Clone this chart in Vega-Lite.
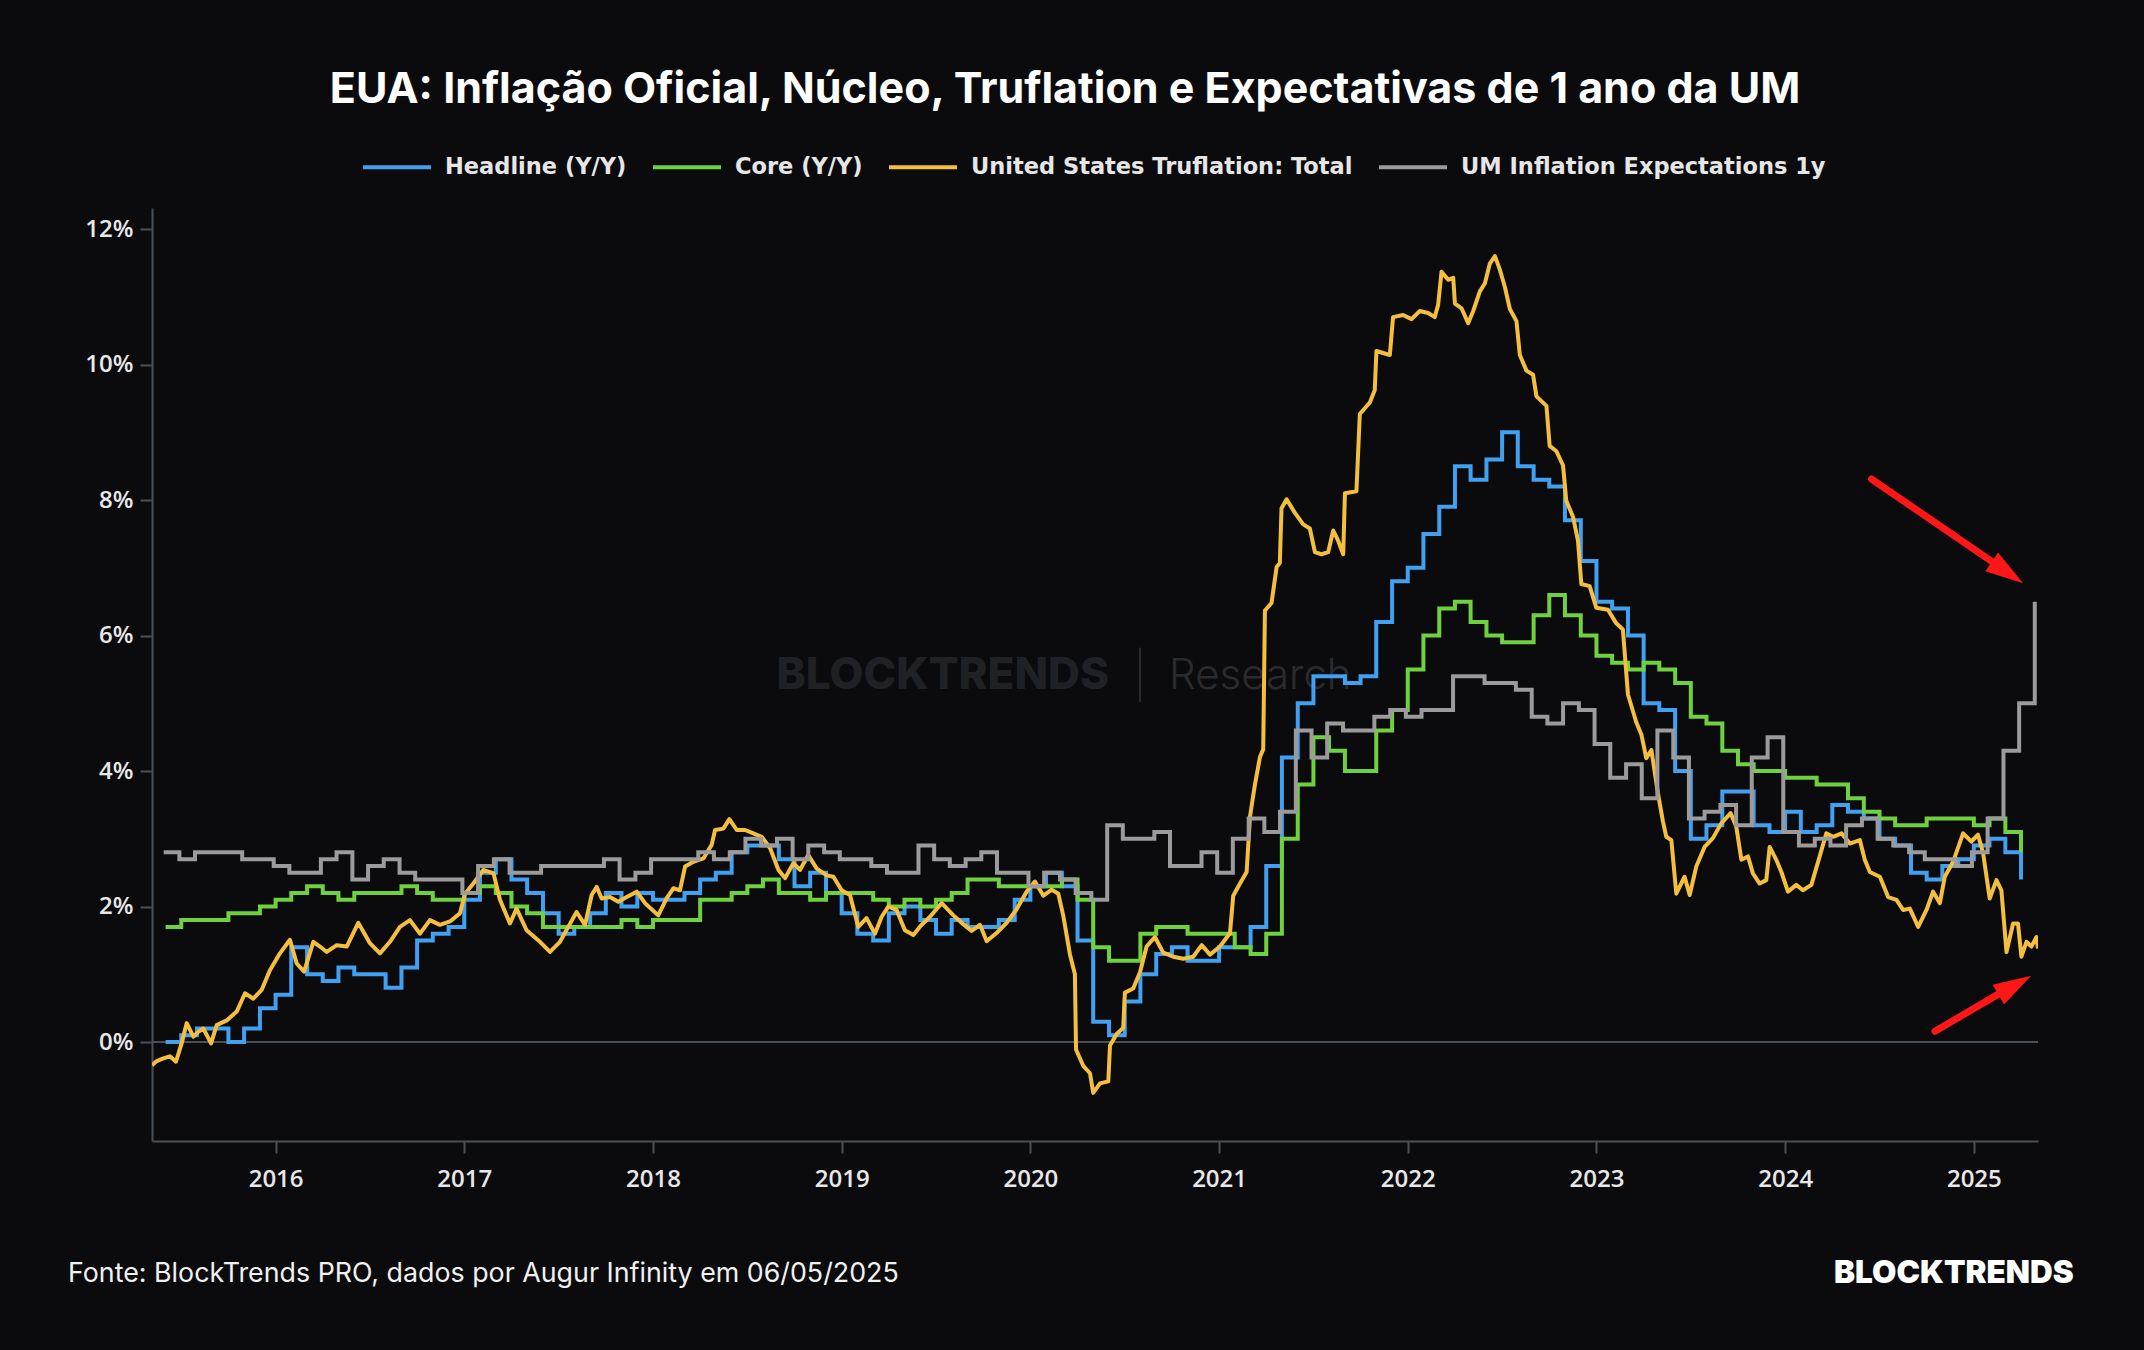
{
"$schema":"https://vega.github.io/schema/vega-lite/v6.json",
"background":"#0b0b0d",
"width":1886,"height":933,
"autosize":{"type":"none"},
"padding":{"left":152,"top":208,"right":106,"bottom":209},
"title":{"text":"EUA: Inflação Oficial, Núcleo, Truflation e Expectativas de 1 ano da UM","font":"Inter","fontSize":43,"fontWeight":700,"color":"#ffffff","anchor":"middle","frame":"group","offset":19,"dx":-30},
"config":{
 "view":{"stroke":null},
 "axis":{"domainColor":"#4b5058","domainWidth":2,"tickColor":"#4b5058","tickWidth":2,"tickSize":12,"labelColor":"#e8e8e8","labelFont":"Open Sans","labelFontSize":24,"labelFontWeight":600,"grid":false}
},
"datasets":{
"headline":[
{"t":2015.417,"v":0.0},{"t":2015.5,"v":0.1},{"t":2015.583,"v":0.2},{"t":2015.667,"v":0.2},{"t":2015.75,"v":0.0},{"t":2015.833,"v":0.2},{"t":2015.917,"v":0.5},{"t":2016.0,"v":0.7},
{"t":2016.083,"v":1.4},{"t":2016.167,"v":1.0},{"t":2016.25,"v":0.9},{"t":2016.333,"v":1.1},{"t":2016.417,"v":1.0},{"t":2016.5,"v":1.0},{"t":2016.583,"v":0.8},{"t":2016.667,"v":1.1},{"t":2016.75,"v":1.5},{"t":2016.833,"v":1.6},{"t":2016.917,"v":1.7},{"t":2017.0,"v":2.1},
{"t":2017.083,"v":2.5},{"t":2017.167,"v":2.7},{"t":2017.25,"v":2.4},{"t":2017.333,"v":2.2},{"t":2017.417,"v":1.9},{"t":2017.5,"v":1.6},{"t":2017.583,"v":1.7},{"t":2017.667,"v":1.9},{"t":2017.75,"v":2.2},{"t":2017.833,"v":2.0},{"t":2017.917,"v":2.2},{"t":2018.0,"v":2.1},
{"t":2018.083,"v":2.1},{"t":2018.167,"v":2.2},{"t":2018.25,"v":2.4},{"t":2018.333,"v":2.5},{"t":2018.417,"v":2.8},{"t":2018.5,"v":2.9},{"t":2018.583,"v":2.9},{"t":2018.667,"v":2.7},{"t":2018.75,"v":2.3},{"t":2018.833,"v":2.5},{"t":2018.917,"v":2.2},{"t":2019.0,"v":1.9},
{"t":2019.083,"v":1.6},{"t":2019.167,"v":1.5},{"t":2019.25,"v":1.9},{"t":2019.333,"v":2.0},{"t":2019.417,"v":1.8},{"t":2019.5,"v":1.6},{"t":2019.583,"v":1.8},{"t":2019.667,"v":1.7},{"t":2019.75,"v":1.7},{"t":2019.833,"v":1.8},{"t":2019.917,"v":2.1},{"t":2020.0,"v":2.3},
{"t":2020.083,"v":2.5},{"t":2020.167,"v":2.3},{"t":2020.25,"v":1.5},{"t":2020.333,"v":0.3},{"t":2020.417,"v":0.1},{"t":2020.5,"v":0.6},{"t":2020.583,"v":1.0},{"t":2020.667,"v":1.3},{"t":2020.75,"v":1.4},{"t":2020.833,"v":1.2},{"t":2020.917,"v":1.2},{"t":2021.0,"v":1.4},
{"t":2021.083,"v":1.4},{"t":2021.167,"v":1.7},{"t":2021.25,"v":2.6},{"t":2021.333,"v":4.2},{"t":2021.417,"v":5.0},{"t":2021.5,"v":5.4},{"t":2021.583,"v":5.4},{"t":2021.667,"v":5.3},{"t":2021.75,"v":5.4},{"t":2021.833,"v":6.2},{"t":2021.917,"v":6.8},{"t":2022.0,"v":7.0},
{"t":2022.083,"v":7.5},{"t":2022.167,"v":7.9},{"t":2022.25,"v":8.5},{"t":2022.333,"v":8.3},{"t":2022.417,"v":8.6},{"t":2022.5,"v":9.0},{"t":2022.583,"v":8.5},{"t":2022.667,"v":8.3},{"t":2022.75,"v":8.2},{"t":2022.833,"v":7.7},{"t":2022.917,"v":7.1},{"t":2023.0,"v":6.5},
{"t":2023.083,"v":6.4},{"t":2023.167,"v":6.0},{"t":2023.25,"v":5.0},{"t":2023.333,"v":4.9},{"t":2023.417,"v":4.0},{"t":2023.5,"v":3.0},{"t":2023.583,"v":3.2},{"t":2023.667,"v":3.7},{"t":2023.75,"v":3.7},{"t":2023.833,"v":3.2},{"t":2023.917,"v":3.1},{"t":2024.0,"v":3.4},
{"t":2024.083,"v":3.1},{"t":2024.167,"v":3.2},{"t":2024.25,"v":3.5},{"t":2024.333,"v":3.4},{"t":2024.417,"v":3.3},{"t":2024.5,"v":3.0},{"t":2024.583,"v":2.9},{"t":2024.667,"v":2.5},{"t":2024.75,"v":2.4},{"t":2024.833,"v":2.6},{"t":2024.917,"v":2.7},{"t":2025.0,"v":2.9},
{"t":2025.083,"v":3.0},{"t":2025.167,"v":2.8},{"t":2025.25,"v":2.4}
],
"core":[
{"t":2015.417,"v":1.7},{"t":2015.5,"v":1.8},{"t":2015.583,"v":1.8},{"t":2015.667,"v":1.8},{"t":2015.75,"v":1.9},{"t":2015.833,"v":1.9},{"t":2015.917,"v":2.0},{"t":2016.0,"v":2.1},
{"t":2016.083,"v":2.2},{"t":2016.167,"v":2.3},{"t":2016.25,"v":2.2},{"t":2016.333,"v":2.1},{"t":2016.417,"v":2.2},{"t":2016.5,"v":2.2},{"t":2016.583,"v":2.2},{"t":2016.667,"v":2.3},{"t":2016.75,"v":2.2},{"t":2016.833,"v":2.1},{"t":2016.917,"v":2.1},{"t":2017.0,"v":2.2},
{"t":2017.083,"v":2.3},{"t":2017.167,"v":2.2},{"t":2017.25,"v":2.0},{"t":2017.333,"v":1.9},{"t":2017.417,"v":1.7},{"t":2017.5,"v":1.7},{"t":2017.583,"v":1.7},{"t":2017.667,"v":1.7},{"t":2017.75,"v":1.7},{"t":2017.833,"v":1.8},{"t":2017.917,"v":1.7},{"t":2018.0,"v":1.8},
{"t":2018.083,"v":1.8},{"t":2018.167,"v":1.8},{"t":2018.25,"v":2.1},{"t":2018.333,"v":2.1},{"t":2018.417,"v":2.2},{"t":2018.5,"v":2.3},{"t":2018.583,"v":2.4},{"t":2018.667,"v":2.2},{"t":2018.75,"v":2.2},{"t":2018.833,"v":2.1},{"t":2018.917,"v":2.2},{"t":2019.0,"v":2.2},
{"t":2019.083,"v":2.2},{"t":2019.167,"v":2.1},{"t":2019.25,"v":2.0},{"t":2019.333,"v":2.1},{"t":2019.417,"v":2.0},{"t":2019.5,"v":2.1},{"t":2019.583,"v":2.2},{"t":2019.667,"v":2.4},{"t":2019.75,"v":2.4},{"t":2019.833,"v":2.3},{"t":2019.917,"v":2.3},{"t":2020.0,"v":2.3},
{"t":2020.083,"v":2.3},{"t":2020.167,"v":2.4},{"t":2020.25,"v":2.1},{"t":2020.333,"v":1.4},{"t":2020.417,"v":1.2},{"t":2020.5,"v":1.2},{"t":2020.583,"v":1.6},{"t":2020.667,"v":1.7},{"t":2020.75,"v":1.7},{"t":2020.833,"v":1.6},{"t":2020.917,"v":1.6},{"t":2021.0,"v":1.6},
{"t":2021.083,"v":1.4},{"t":2021.167,"v":1.3},{"t":2021.25,"v":1.6},{"t":2021.333,"v":3.0},{"t":2021.417,"v":3.8},{"t":2021.5,"v":4.5},{"t":2021.583,"v":4.3},{"t":2021.667,"v":4.0},{"t":2021.75,"v":4.0},{"t":2021.833,"v":4.6},{"t":2021.917,"v":4.9},{"t":2022.0,"v":5.5},
{"t":2022.083,"v":6.0},{"t":2022.167,"v":6.4},{"t":2022.25,"v":6.5},{"t":2022.333,"v":6.2},{"t":2022.417,"v":6.0},{"t":2022.5,"v":5.9},{"t":2022.583,"v":5.9},{"t":2022.667,"v":6.3},{"t":2022.75,"v":6.6},{"t":2022.833,"v":6.3},{"t":2022.917,"v":6.0},{"t":2023.0,"v":5.7},
{"t":2023.083,"v":5.6},{"t":2023.167,"v":5.5},{"t":2023.25,"v":5.6},{"t":2023.333,"v":5.5},{"t":2023.417,"v":5.3},{"t":2023.5,"v":4.8},{"t":2023.583,"v":4.7},{"t":2023.667,"v":4.3},{"t":2023.75,"v":4.1},{"t":2023.833,"v":4.0},{"t":2023.917,"v":4.0},{"t":2024.0,"v":3.9},
{"t":2024.083,"v":3.9},{"t":2024.167,"v":3.8},{"t":2024.25,"v":3.8},{"t":2024.333,"v":3.6},{"t":2024.417,"v":3.4},{"t":2024.5,"v":3.3},{"t":2024.583,"v":3.2},{"t":2024.667,"v":3.2},{"t":2024.75,"v":3.3},{"t":2024.833,"v":3.3},{"t":2024.917,"v":3.3},{"t":2025.0,"v":3.2},
{"t":2025.083,"v":3.3},{"t":2025.167,"v":3.1},{"t":2025.25,"v":2.8}
],
"um":[
{"t":2015.407,"v":2.8},{"t":2015.49,"v":2.7},{"t":2015.573,"v":2.8},{"t":2015.657,"v":2.8},{"t":2015.74,"v":2.8},{"t":2015.823,"v":2.7},{"t":2015.907,"v":2.7},{"t":2015.99,"v":2.6},
{"t":2016.073,"v":2.5},{"t":2016.157,"v":2.5},{"t":2016.24,"v":2.7},{"t":2016.323,"v":2.8},{"t":2016.407,"v":2.4},{"t":2016.49,"v":2.6},{"t":2016.573,"v":2.7},{"t":2016.657,"v":2.5},{"t":2016.74,"v":2.4},{"t":2016.823,"v":2.4},{"t":2016.907,"v":2.4},{"t":2016.99,"v":2.2},
{"t":2017.073,"v":2.6},{"t":2017.157,"v":2.7},{"t":2017.24,"v":2.5},{"t":2017.323,"v":2.5},{"t":2017.407,"v":2.6},{"t":2017.49,"v":2.6},{"t":2017.573,"v":2.6},{"t":2017.657,"v":2.6},{"t":2017.74,"v":2.7},{"t":2017.823,"v":2.4},{"t":2017.907,"v":2.5},{"t":2017.99,"v":2.7},
{"t":2018.073,"v":2.7},{"t":2018.157,"v":2.7},{"t":2018.24,"v":2.8},{"t":2018.323,"v":2.7},{"t":2018.407,"v":2.8},{"t":2018.49,"v":3.0},{"t":2018.573,"v":2.9},{"t":2018.657,"v":3.0},{"t":2018.74,"v":2.7},{"t":2018.823,"v":2.9},{"t":2018.907,"v":2.8},{"t":2018.99,"v":2.7},
{"t":2019.073,"v":2.7},{"t":2019.157,"v":2.6},{"t":2019.24,"v":2.5},{"t":2019.323,"v":2.5},{"t":2019.407,"v":2.9},{"t":2019.49,"v":2.7},{"t":2019.573,"v":2.6},{"t":2019.657,"v":2.7},{"t":2019.74,"v":2.8},{"t":2019.823,"v":2.5},{"t":2019.907,"v":2.5},{"t":2019.99,"v":2.3},
{"t":2020.073,"v":2.5},{"t":2020.157,"v":2.4},{"t":2020.24,"v":2.2},{"t":2020.323,"v":2.1},{"t":2020.407,"v":3.2},{"t":2020.49,"v":3.0},{"t":2020.573,"v":3.0},{"t":2020.657,"v":3.1},{"t":2020.74,"v":2.6},{"t":2020.823,"v":2.6},{"t":2020.907,"v":2.8},{"t":2020.99,"v":2.5},
{"t":2021.073,"v":3.0},{"t":2021.157,"v":3.3},{"t":2021.24,"v":3.1},{"t":2021.323,"v":3.4},{"t":2021.407,"v":4.6},{"t":2021.49,"v":4.2},{"t":2021.573,"v":4.7},{"t":2021.657,"v":4.6},{"t":2021.74,"v":4.6},{"t":2021.823,"v":4.8},{"t":2021.907,"v":4.9},{"t":2021.99,"v":4.8},
{"t":2022.073,"v":4.9},{"t":2022.157,"v":4.9},{"t":2022.24,"v":5.4},{"t":2022.323,"v":5.4},{"t":2022.407,"v":5.3},{"t":2022.49,"v":5.3},{"t":2022.573,"v":5.2},{"t":2022.657,"v":4.8},{"t":2022.74,"v":4.7},{"t":2022.823,"v":5.0},{"t":2022.907,"v":4.9},{"t":2022.99,"v":4.4},
{"t":2023.073,"v":3.9},{"t":2023.157,"v":4.1},{"t":2023.24,"v":3.6},{"t":2023.323,"v":4.6},{"t":2023.407,"v":4.2},{"t":2023.49,"v":3.3},{"t":2023.573,"v":3.4},{"t":2023.657,"v":3.5},{"t":2023.74,"v":3.2},{"t":2023.823,"v":4.2},{"t":2023.907,"v":4.5},{"t":2023.99,"v":3.1},
{"t":2024.073,"v":2.9},{"t":2024.157,"v":3.0},{"t":2024.24,"v":2.9},{"t":2024.323,"v":3.2},{"t":2024.407,"v":3.3},{"t":2024.49,"v":3.0},{"t":2024.573,"v":2.9},{"t":2024.657,"v":2.8},{"t":2024.74,"v":2.7},{"t":2024.823,"v":2.7},{"t":2024.907,"v":2.6},{"t":2024.99,"v":2.8},
{"t":2025.073,"v":3.3},{"t":2025.157,"v":4.3},{"t":2025.24,"v":5.0},{"t":2025.323,"v":6.5}
],
"truf":[
{"t":2015.345,"v":-0.34},{"t":2015.37,"v":-0.28},{"t":2015.405,"v":-0.24},{"t":2015.44,"v":-0.21},{"t":2015.472,"v":-0.29},{"t":2015.502,"v":-0.02},{"t":2015.529,"v":0.28},{"t":2015.564,"v":0.08},{"t":2015.59,"v":0.15},{"t":2015.617,"v":0.2},{"t":2015.658,"v":-0.02},{"t":2015.688,"v":0.25},{"t":2015.741,"v":0.32},{"t":2015.794,"v":0.45},{"t":2015.838,"v":0.72},{"t":2015.882,"v":0.64},{"t":2015.926,"v":0.77},{"t":2015.97,"v":1.06},
{"t":2016.023,"v":1.31},{"t":2016.076,"v":1.51},{"t":2016.112,"v":1.16},{"t":2016.151,"v":1.04},{"t":2016.2,"v":1.48},{"t":2016.235,"v":1.41},{"t":2016.271,"v":1.33},{"t":2016.324,"v":1.43},{"t":2016.377,"v":1.41},{"t":2016.438,"v":1.76},{"t":2016.5,"v":1.46},{"t":2016.553,"v":1.31},{"t":2016.606,"v":1.48},{"t":2016.659,"v":1.7},{"t":2016.712,"v":1.8},{"t":2016.765,"v":1.6},{"t":2016.818,"v":1.8},{"t":2016.871,"v":1.73},{"t":2016.924,"v":1.78},{"t":2016.977,"v":1.9},
{"t":2017.004,"v":2.19},{"t":2017.048,"v":2.34},{"t":2017.101,"v":2.54},{"t":2017.155,"v":2.49},{"t":2017.189,"v":2.1},{"t":2017.242,"v":1.75},{"t":2017.277,"v":1.97},{"t":2017.33,"v":1.65},{"t":2017.401,"v":1.48},{"t":2017.454,"v":1.33},{"t":2017.507,"v":1.48},{"t":2017.551,"v":1.7},{"t":2017.595,"v":1.92},{"t":2017.64,"v":1.73},{"t":2017.675,"v":2.17},{"t":2017.702,"v":2.29},{"t":2017.728,"v":2.12},{"t":2017.772,"v":2.14},{"t":2017.816,"v":2.07},{"t":2017.861,"v":2.14},{"t":2017.914,"v":2.22},{"t":2017.958,"v":2.05},
{"t":2018.028,"v":1.87},{"t":2018.072,"v":2.12},{"t":2018.108,"v":2.27},{"t":2018.143,"v":2.24},{"t":2018.17,"v":2.59},{"t":2018.214,"v":2.66},{"t":2018.267,"v":2.71},{"t":2018.311,"v":2.91},{"t":2018.329,"v":3.13},{"t":2018.373,"v":3.15},{"t":2018.405,"v":3.29},{"t":2018.444,"v":3.13},{"t":2018.488,"v":3.13},{"t":2018.532,"v":3.08},{"t":2018.576,"v":3.03},{"t":2018.621,"v":2.86},{"t":2018.665,"v":2.54},{"t":2018.7,"v":2.42},{"t":2018.744,"v":2.64},{"t":2018.779,"v":2.54},{"t":2018.823,"v":2.76},{"t":2018.868,"v":2.56},{"t":2018.921,"v":2.46},{"t":2018.956,"v":2.44},
{"t":2019.0,"v":2.24},{"t":2019.044,"v":2.17},{"t":2019.088,"v":1.7},{"t":2019.132,"v":1.83},{"t":2019.176,"v":1.6},{"t":2019.212,"v":1.85},{"t":2019.247,"v":2.0},{"t":2019.291,"v":1.95},{"t":2019.335,"v":1.65},{"t":2019.38,"v":1.58},{"t":2019.42,"v":1.72},{"t":2019.468,"v":1.85},{"t":2019.53,"v":2.05},{"t":2019.592,"v":1.87},{"t":2019.636,"v":1.76},{"t":2019.689,"v":1.64},{"t":2019.733,"v":1.73},{"t":2019.768,"v":1.49},{"t":2019.821,"v":1.61},{"t":2019.874,"v":1.76},{"t":2019.927,"v":1.96},{"t":2019.98,"v":2.22},
{"t":2020.024,"v":2.37},{"t":2020.069,"v":2.16},{"t":2020.113,"v":2.25},{"t":2020.148,"v":2.19},{"t":2020.174,"v":1.87},{"t":2020.21,"v":1.29},{"t":2020.236,"v":1.0},{"t":2020.242,"v":-0.11},{"t":2020.28,"v":-0.35},{"t":2020.316,"v":-0.46},{"t":2020.333,"v":-0.75},{"t":2020.369,"v":-0.61},{"t":2020.413,"v":-0.58},{"t":2020.422,"v":-0.05},{"t":2020.457,"v":0.12},{"t":2020.492,"v":0.21},{"t":2020.501,"v":0.73},{"t":2020.545,"v":0.79},{"t":2020.581,"v":1.03},{"t":2020.616,"v":1.41},{"t":2020.66,"v":1.55},{"t":2020.704,"v":1.32},{"t":2020.757,"v":1.26},{"t":2020.81,"v":1.23},{"t":2020.863,"v":1.26},{"t":2020.908,"v":1.43},{"t":2020.952,"v":1.29},
{"t":2021.005,"v":1.41},{"t":2021.058,"v":1.61},{"t":2021.075,"v":2.16},{"t":2021.111,"v":2.34},{"t":2021.146,"v":2.51},{"t":2021.164,"v":3.33},{"t":2021.19,"v":3.8},{"t":2021.217,"v":4.21},{"t":2021.234,"v":4.32},{"t":2021.243,"v":6.37},{"t":2021.278,"v":6.48},{"t":2021.305,"v":7.01},{"t":2021.322,"v":7.07},{"t":2021.331,"v":7.88},{"t":2021.358,"v":8.01},{"t":2021.402,"v":7.81},{"t":2021.446,"v":7.64},{"t":2021.481,"v":7.58},{"t":2021.508,"v":7.23},{"t":2021.543,"v":7.2},{"t":2021.578,"v":7.23},{"t":2021.605,"v":7.55},{"t":2021.631,"v":7.4},{"t":2021.658,"v":7.2},{"t":2021.667,"v":8.1},{"t":2021.728,"v":8.13},{"t":2021.746,"v":9.27},{"t":2021.799,"v":9.44},{"t":2021.825,"v":9.62},{"t":2021.834,"v":10.2},{"t":2021.869,"v":10.17},{"t":2021.905,"v":10.14},{"t":2021.922,"v":10.7},{"t":2021.975,"v":10.73},
{"t":2022.02,"v":10.67},{"t":2022.064,"v":10.79},{"t":2022.108,"v":10.76},{"t":2022.143,"v":10.7},{"t":2022.161,"v":10.88},{"t":2022.179,"v":11.37},{"t":2022.214,"v":11.25},{"t":2022.241,"v":11.28},{"t":2022.25,"v":10.9},{"t":2022.285,"v":10.83},{"t":2022.32,"v":10.61},{"t":2022.347,"v":10.79},{"t":2022.382,"v":11.08},{"t":2022.409,"v":11.2},{"t":2022.435,"v":11.49},{"t":2022.462,"v":11.6},{"t":2022.488,"v":11.4},{"t":2022.515,"v":11.14},{"t":2022.541,"v":10.82},{"t":2022.576,"v":10.64},{"t":2022.594,"v":10.14},{"t":2022.629,"v":9.91},{"t":2022.664,"v":9.85},{"t":2022.682,"v":9.53},{"t":2022.735,"v":9.39},{"t":2022.752,"v":8.8},{"t":2022.788,"v":8.72},{"t":2022.823,"v":8.51},{"t":2022.84,"v":7.99},{"t":2022.876,"v":7.75},{"t":2022.902,"v":7.4},{"t":2022.92,"v":6.76},{"t":2022.964,"v":6.73},{"t":2022.999,"v":6.41},
{"t":2023.061,"v":6.38},{"t":2023.105,"v":6.18},{"t":2023.14,"v":6.09},{"t":2023.167,"v":5.13},{"t":2023.211,"v":4.72},{"t":2023.238,"v":4.54},{"t":2023.264,"v":4.19},{"t":2023.291,"v":4.31},{"t":2023.326,"v":3.67},{"t":2023.352,"v":3.26},{"t":2023.37,"v":3.03},{"t":2023.397,"v":2.98},{"t":2023.423,"v":2.19},{"t":2023.467,"v":2.44},{"t":2023.494,"v":2.17},{"t":2023.529,"v":2.59},{"t":2023.573,"v":2.88},{"t":2023.617,"v":3.01},{"t":2023.662,"v":3.23},{"t":2023.711,"v":3.38},{"t":2023.741,"v":3.18},{"t":2023.768,"v":2.69},{"t":2023.803,"v":2.74},{"t":2023.829,"v":2.49},{"t":2023.865,"v":2.34},{"t":2023.9,"v":2.39},{"t":2023.918,"v":2.88},{"t":2023.953,"v":2.69},{"t":2023.98,"v":2.51},
{"t":2024.015,"v":2.22},{"t":2024.059,"v":2.32},{"t":2024.094,"v":2.24},{"t":2024.139,"v":2.32},{"t":2024.183,"v":2.74},{"t":2024.218,"v":3.08},{"t":2024.254,"v":3.03},{"t":2024.299,"v":3.08},{"t":2024.343,"v":2.93},{"t":2024.396,"v":2.98},{"t":2024.422,"v":2.69},{"t":2024.449,"v":2.51},{"t":2024.502,"v":2.44},{"t":2024.546,"v":2.14},{"t":2024.59,"v":2.1},{"t":2024.625,"v":1.95},{"t":2024.661,"v":1.97},{"t":2024.705,"v":1.7},{"t":2024.749,"v":1.95},{"t":2024.784,"v":2.22},{"t":2024.82,"v":2.05},{"t":2024.846,"v":2.44},{"t":2024.89,"v":2.66},{"t":2024.943,"v":3.08},{"t":2024.987,"v":2.96},
{"t":2025.022,"v":3.06},{"t":2025.049,"v":2.79},{"t":2025.084,"v":2.12},{"t":2025.12,"v":2.39},{"t":2025.146,"v":2.24},{"t":2025.173,"v":1.33},{"t":2025.208,"v":1.75},{"t":2025.234,"v":1.75},{"t":2025.252,"v":1.26},{"t":2025.279,"v":1.48},{"t":2025.305,"v":1.41},{"t":2025.332,"v":1.55},{"t":2025.34,"v":1.38}
]
},
"layer":[
{"data":{"name":"headline"},
 "mark":{"type":"line","interpolate":"step-after","strokeWidth":4,"clip":true,"opacity":0},
 "encoding":{
  "x":{"field":"t","type":"quantitative","scale":{"domain":[2015.345,2025.34],"nice":false,"zero":false},"axis":{"title":null,"values":[2016,2017,2018,2019,2020,2021,2022,2023,2024,2025],"format":"d","labelPadding":14}},
  "y":{"field":"v","type":"quantitative","scale":{"domain":[-1.46,12.31],"nice":false,"zero":false},"axis":{"title":null,"values":[0,2,4,6,8,10,12],"labelExpr":"datum.value + '%'","labelPadding":7}},
  "color":{"datum":"Headline (Y/Y)","type":"nominal","scale":{"domain":["Headline (Y/Y)","Core (Y/Y)","United States Truflation: Total","UM Inflation Expectations 1y"],"range":["#42a0f0","#6fd13f","#f4bf3f","#9b9b9b"]},
   "legend":{"orient":"none","legendX":209,"legendY":-77,"direction":"horizontal","title":null,"symbolType":"stroke","symbolSize":4624,"symbolStrokeWidth":4,"symbolOpacity":1,"labelFont":"DejaVu Sans","labelFontSize":22.5,"labelFontWeight":"bold","labelColor":"#e6e6e6","labelOffset":12,"labelLimit":0,"columnPadding":18,"padding":0}}
 }},
{"data":{"values":[{}]},"mark":{"type":"text","font":"Inter","fontWeight":800,"fontSize":44,"color":"#202125","align":"left","baseline":"middle"},
 "encoding":{"x":{"datum":2018.655,"type":"quantitative"},"y":{"datum":5.4,"type":"quantitative"},"text":{"value":"BLOCKTRENDS"}}},
{"data":{"values":[{}]},"mark":{"type":"rule","color":"#2a2b2f","strokeWidth":2},
 "encoding":{"x":{"datum":2020.581,"type":"quantitative"},"y":{"datum":5.02,"type":"quantitative"},"y2":{"datum":5.82}}},
{"data":{"values":[{}]},"mark":{"type":"text","font":"Inter","fontWeight":300,"fontSize":42,"color":"#2a2b2f","align":"left","baseline":"middle"},
 "encoding":{"x":{"datum":2020.735,"type":"quantitative"},"y":{"datum":5.4,"type":"quantitative"},"text":{"value":"Research"}}},
{"data":{"values":[{}]},"mark":{"type":"rule","color":"#4b5058","strokeWidth":2},
 "encoding":{"y":{"datum":0,"type":"quantitative"}}},
{"data":{"name":"headline"},
 "mark":{"type":"line","interpolate":"step-after","strokeWidth":4,"clip":true},
 "encoding":{"x":{"field":"t","type":"quantitative"},"y":{"field":"v","type":"quantitative"},"color":{"datum":"Headline (Y/Y)","type":"nominal"}}},
{"data":{"name":"core"},
 "mark":{"type":"line","interpolate":"step-after","strokeWidth":4,"clip":true},
 "encoding":{"x":{"field":"t","type":"quantitative"},"y":{"field":"v","type":"quantitative"},"color":{"datum":"Core (Y/Y)","type":"nominal"}}},
{"data":{"name":"truf"},
 "mark":{"type":"line","strokeWidth":4,"clip":true,"strokeJoin":"round"},
 "encoding":{"x":{"field":"t","type":"quantitative"},"y":{"field":"v","type":"quantitative"},"color":{"datum":"United States Truflation: Total","type":"nominal"}}},
{"data":{"name":"um"},
 "mark":{"type":"line","interpolate":"step-after","strokeWidth":4,"clip":true},
 "encoding":{"x":{"field":"t","type":"quantitative"},"y":{"field":"v","type":"quantitative"},"color":{"datum":"UM Inflation Expectations 1y","type":"nominal"}}},
{"data":{"values":[{}]},"mark":{"type":"rule","color":"#ff1616","strokeWidth":7,"strokeCap":"round"},
 "encoding":{"x":{"datum":2024.458,"type":"quantitative"},"x2":{"datum":2025.112},"y":{"datum":8.31,"type":"quantitative"},"y2":{"datum":7.06}}},
{"data":{"values":[{}]},"mark":{"type":"rule","color":"#ff1616","strokeWidth":7,"strokeCap":"round"},
 "encoding":{"x":{"datum":2024.794,"type":"quantitative"},"x2":{"datum":2025.144},"y":{"datum":0.16,"type":"quantitative"},"y2":{"datum":0.73}}},
{"data":{"values":[{}]},"mark":{"type":"point","shape":"M0,-1L0.6,1L-0.6,1Z","filled":true,"color":"#ff1616","opacity":1,"size":1444,"angle":124},
 "encoding":{"x":{"datum":2025.178,"type":"quantitative"},"y":{"datum":6.93,"type":"quantitative"}}},
{"data":{"values":[{}]},"mark":{"type":"point","shape":"M0,-1L0.6,1L-0.6,1Z","filled":true,"color":"#ff1616","opacity":1,"size":1444,"angle":60},
 "encoding":{"x":{"datum":2025.217,"type":"quantitative"},"y":{"datum":0.84,"type":"quantitative"}}},
{"data":{"values":[{}]},"mark":{"type":"text","font":"Inter","fontSize":26.8,"color":"#f0f0f0","align":"left","baseline":"middle"},
 "encoding":{"x":{"datum":2014.9,"type":"quantitative"},"y":{"datum":-3.43,"type":"quantitative"},"text":{"value":"Fonte: BlockTrends PRO, dados por Augur Infinity em 06/05/2025"}}},
{"data":{"values":[{}]},"mark":{"type":"text","font":"Inter","fontWeight":900,"fontSize":31.5,"color":"#ffffff","align":"right","baseline":"middle"},
 "encoding":{"x":{"datum":2025.53,"type":"quantitative"},"y":{"datum":-3.43,"type":"quantitative"},"text":{"value":"BLOCKTRENDS"}}}
]
}
